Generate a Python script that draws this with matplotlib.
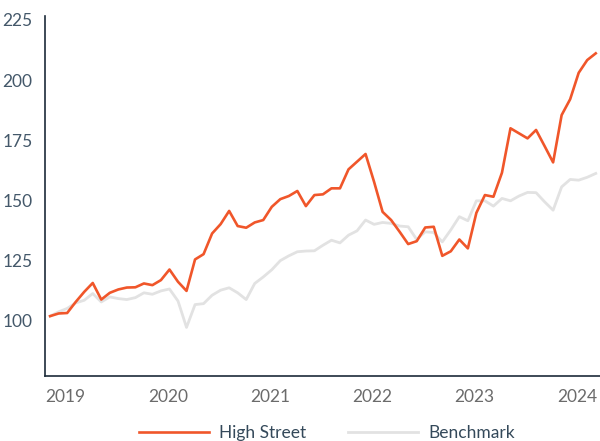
import matplotlib
matplotlib.use("Agg")
from matplotlib import pyplot as plt
import pandas as pd

# monthly index values, Nov 2018 .. Mar 2024
months = pd.date_range("2018-11-01", periods=65, freq="MS")

high_street = [101.7, 102.8, 103.0, 107.6, 111.8, 115.5, 108.6, 111.4, 112.8, 113.6,
               113.7, 115.3, 114.6, 116.7, 121.1, 116.0, 112.2, 125.3, 127.5, 136.1,
               140.0, 145.5, 139.2, 138.5, 140.7, 141.7, 147.2, 150.4, 151.7, 153.8,
               147.5, 152.1, 152.4, 154.9, 154.9, 162.8, 166.0, 169.2, 157.6, 145.1,
               141.7, 136.8, 131.7, 132.9, 138.6, 138.9, 126.8, 128.7, 133.6, 129.9,
               144.7, 152.1, 151.4, 161.4, 179.9, 177.8, 175.7, 179.2, 172.5, 165.7,
               185.4, 192.0, 203.0, 208.3, 211.1]

benchmark = [101.7, 103.5, 104.9, 107.2, 108.3, 111.1, 107.6, 109.7, 109.0, 108.6,
             109.4, 111.4, 110.8, 112.2, 113.0, 108.0, 97.0, 106.5, 106.9, 110.4,
             112.5, 113.5, 111.4, 108.6, 115.3, 118.0, 121.0, 124.8, 126.8, 128.5,
             128.8, 128.9, 131.2, 133.3, 132.2, 135.4, 137.2, 141.7, 139.9, 140.7,
             140.3, 139.2, 138.9, 133.6, 136.8, 136.5, 132.6, 137.6, 143.1, 141.4,
             149.7, 149.7, 147.5, 150.7, 149.7, 151.7, 153.2, 153.1, 149.3, 145.8,
             155.5, 158.6, 158.3, 159.5, 161.1]

years = [2019, 2020, 2021, 2022, 2023, 2024]
y_ticks = [100, 125, 150, 175, 200, 225]

plt.rcParams["font.family"] = ["Lato", "DejaVu Sans"]

fig = plt.figure(figsize=(6, 4.41), dpi=100)
ax = fig.add_axes([0.075, 0.147, 0.925, 0.817])

x = list(range(len(months)))
ax.plot(x, benchmark, color="#e2e2e2", lw=2.0, label="Benchmark", zorder=2)
ax.plot(x, high_street, color="#f0562a", lw=1.9, label="High Street", zorder=3)

year_pos = [list(months).index(pd.Timestamp(f"{y}-01-01")) - 0.2 for y in years]
ax.set_xticks(year_pos)
ax.set_xticklabels([str(y) for y in years])
ax.set_yticks(y_ticks)
ax.set_xlim(-0.6, 64.5)
ax.set_ylim(76.7, 226.7)

for s in ["top", "right"]:
    ax.spines[s].set_visible(False)
for s in ["left", "bottom"]:
    ax.spines[s].set_color("#1c2b3a")
    ax.spines[s].set_linewidth(1.2)

ax.tick_params(axis="x", length=0, pad=9, labelsize=12.5, labelcolor="#6b6b6b")
ax.tick_params(axis="y", length=0, pad=9, labelsize=12.5, labelcolor="#44586a")

handles, labels = ax.get_legend_handles_labels()
leg = fig.legend(handles[::-1], labels[::-1], loc="center",
                 bbox_to_anchor=(327 / 600, 1 - 433 / 441), ncol=2, frameon=False,
                 fontsize=12.5, handlelength=4.0, handletextpad=0.6, columnspacing=2.4)
for t in leg.get_texts():
    t.set_color("#34495a")

plt.savefig("out.png", dpi=100)
